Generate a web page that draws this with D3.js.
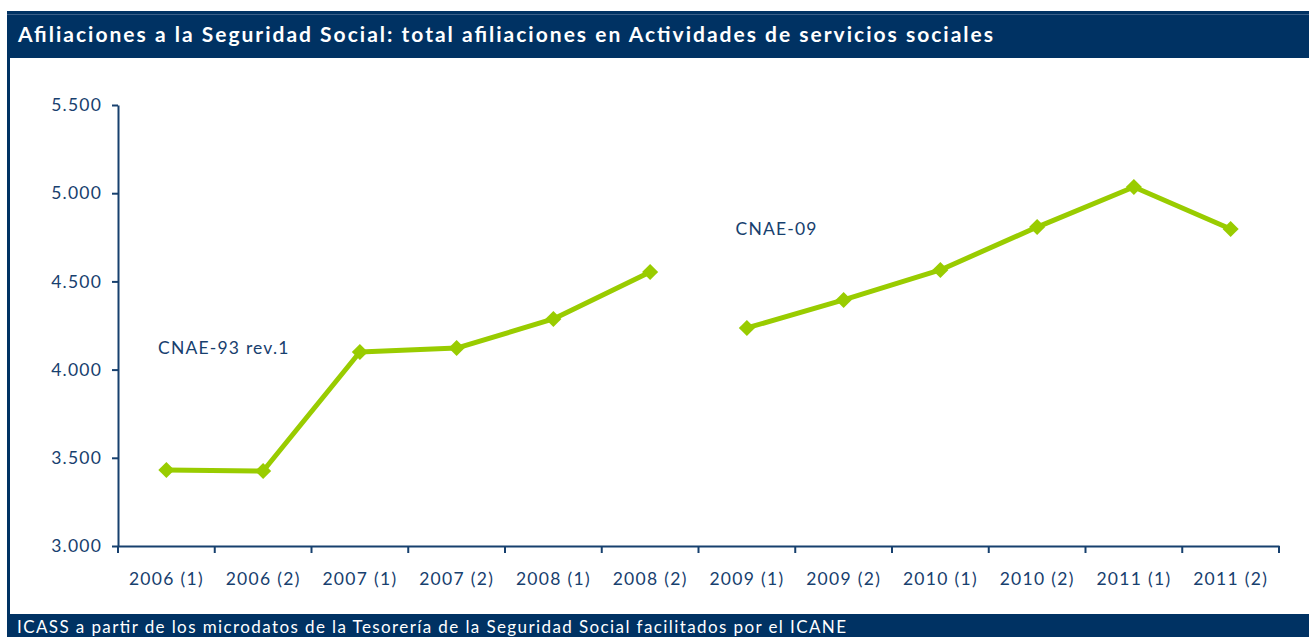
<!DOCTYPE html>
<html>
<head>
<meta charset="utf-8">
<script src="https://cdn.jsdelivr.net/npm/d3@7"></script>
<style>
  html, body { margin: 0; padding: 0; background: #fff; }
  svg { display: block; }
  text { font-family: "Century Gothic", "Lato", "Open Sans", sans-serif; }
</style>
</head>
<body>
<svg id="chart" width="1309" height="637"></svg>
<script>
const categories = ["2006 (1)","2006 (2)","2007 (1)","2007 (2)","2008 (1)","2008 (2)","2009 (1)","2009 (2)","2010 (1)","2010 (2)","2011 (1)","2011 (2)"];
const seriesCNAE93 = [3431, 3425, 4100, 4122, 4287, 4553];
const seriesCNAE09 = [4236, 4395, 4565, 4808, 5035, 4797];
const yTicks = [3000, 3500, 4000, 4500, 5000, 5500];
const title = "Afiliaciones a la Seguridad Social: total afiliaciones en Actividades de servicios sociales";
const footer = "ICASS a partir de los microdatos de la Tesorería de la Seguridad Social facilitados por el ICANE";
const labels = [{text: "CNAE-93 rev.1", cat: "2006 (1)", value: 4090, dx: 40}, {text: "CNAE-09", cat: "2009 (1)", value: 4765, dx: 37}];

const dark = "#003263";
const axisCol = "#17406e";
const green = "#99cc00";
const fontFam = '"Century Gothic", "Lato", "Open Sans", sans-serif';

const svg = d3.select("#chart");

// frame
svg.append("rect").attr("x", 7).attr("y", 11).attr("width", 1302).attr("height", 47).attr("fill", dark);
svg.append("line").attr("x1", 7).attr("x2", 1309).attr("y1", 14.5).attr("y2", 14.5).attr("stroke", "#3b5f88").attr("stroke-width", 1);
svg.append("rect").attr("x", 7).attr("y", 58).attr("width", 3).attr("height", 560).attr("fill", dark);
svg.append("rect").attr("x", 7).attr("y", 614).attr("width", 1302).attr("height", 23).attr("fill", dark);

svg.append("text").attr("x", 18).attr("y", 42).attr("fill", "#fff")
  .attr("font-size", 21).attr("font-weight", "bold")
  .attr("textLength", 975).attr("lengthAdjust", "spacing").text(title);
svg.append("text").attr("x", 17).attr("y", 633).attr("fill", "#fff")
  .attr("font-size", 17)
  .attr("textLength", 829).attr("lengthAdjust", "spacing").text(footer);

const margin = {left: 118, right: 1279, top: 105, bottom: 546};
const x = d3.scaleBand().domain(categories).range([margin.left, margin.right]);
const y = d3.scaleLinear().domain([3000, 5500]).range([margin.bottom, margin.top]);

const fmt = d => d3.format(",")(d).replace(/,/g, ".");

// y axis
const yAxis = svg.append("g").attr("transform", `translate(${margin.left},0)`)
  .call(d3.axisLeft(y).tickValues(yTicks).tickFormat(fmt).tickSize(6).tickSizeOuter(0));
yAxis.select(".domain").attr("stroke", axisCol).attr("stroke-width", 2);
yAxis.selectAll(".tick line").attr("stroke", axisCol).attr("stroke-width", 2);
yAxis.selectAll(".tick text").attr("fill", axisCol).attr("font-size", 17.5).attr("x", -16)
  .style("letter-spacing", "1.2px").style("font-family", fontFam);

// x axis
const xAxis = svg.append("g").attr("transform", `translate(0,${margin.bottom})`)
  .call(d3.axisBottom(x).tickSize(0).tickSizeOuter(0));
xAxis.select(".domain").attr("stroke", axisCol).attr("stroke-width", 2);
xAxis.selectAll(".tick text").attr("fill", axisCol).attr("font-size", 17.5).attr("dy", 0).attr("y", 39)
  .style("letter-spacing", "1.3px").style("font-family", fontFam);
const bounds = categories.map(c => x(c)).concat([x(categories[categories.length - 1]) + x.bandwidth()]);
xAxis.selectAll(".bound").data(bounds).enter().append("line")
  .attr("x1", d => d).attr("x2", d => d).attr("y1", 0).attr("y2", 7)
  .attr("stroke", axisCol).attr("stroke-width", 2);

// series
const line = d3.line().x(d => x(d.c) + x.bandwidth() / 2).y(d => y(d.v));
const s1 = seriesCNAE93.map((v, i) => ({c: categories[i], v}));
const s2 = seriesCNAE09.map((v, i) => ({c: categories[i + 6], v}));
[s1, s2].forEach(s => {
  svg.append("path").datum(s).attr("d", line).attr("fill", "none")
    .attr("stroke", green).attr("stroke-width", 5).attr("stroke-linejoin", "round");
  svg.selectAll(null).data(s).enter().append("path")
    .attr("d", d3.symbol(d3.symbolDiamond2, 165))
    .attr("transform", d => `translate(${x(d.c) + x.bandwidth() / 2},${y(d.v)})`)
    .attr("fill", green);
});

// labels
labels.forEach(l => {
  svg.append("text").attr("x", x(l.cat) + l.dx).attr("y", y(l.value))
    .attr("fill", axisCol).attr("font-size", 17.5).style("letter-spacing", "1.2px").text(l.text);
});
</script>
</body>
</html>
